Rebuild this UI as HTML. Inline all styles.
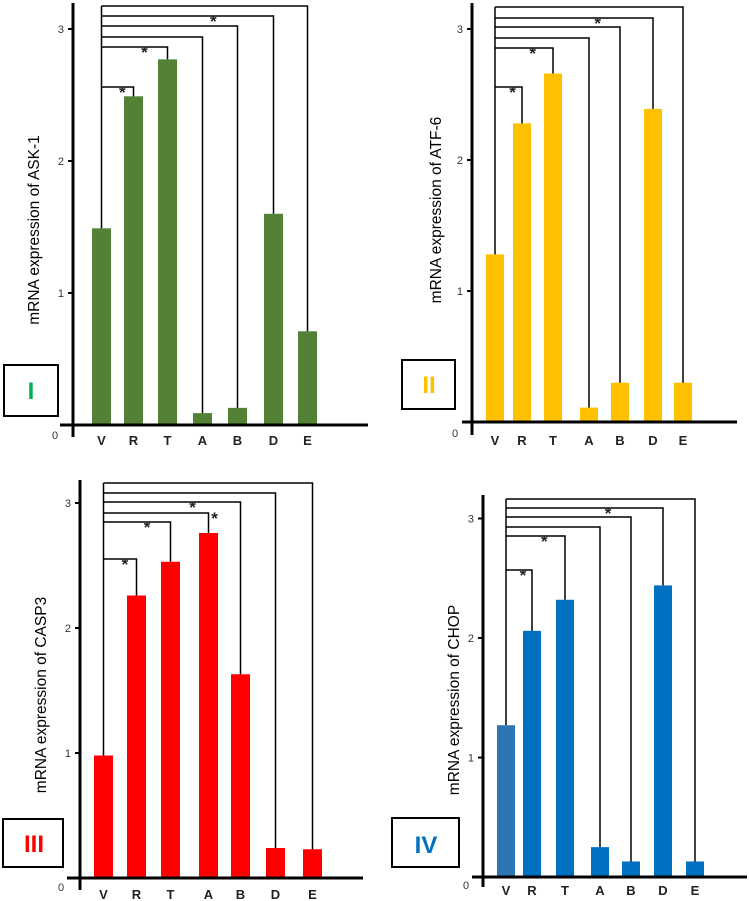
<!DOCTYPE html>
<html><head><meta charset="utf-8">
<style>
html,body{margin:0;padding:0;background:#fff;}
svg{display:block;font-family:"Liberation Sans",sans-serif;}
</style></head>
<body>
<svg id="fig" width="749" height="901" viewBox="0 0 749 901" xmlns="http://www.w3.org/2000/svg"></svg>
<script>
const categories = ["V","R","T","A","B","D","E"];
const valuesASK1 = [1.49, 2.49, 2.77, 0.09, 0.13, 1.60, 0.71];
const valuesATF6 = [1.28, 2.28, 2.66, 0.11, 0.30, 2.39, 0.30];
const valuesCASP3 = [0.98, 2.26, 2.53, 2.76, 1.63, 0.24, 0.23];
const valuesCHOP = [1.27, 2.06, 2.32, 0.25, 0.13, 2.44, 0.13];
const tickLabels = ["0","1","2","3"];
// significance flags for comparisons V vs R,T,A,B,D,E
const sigASK1 = [true, true, false, false, true, false];
const sigATF6 = [true, true, false, false, true, false];
const sigCASP3 = [true, true, true, true, false, false];
const sigCHOP = [true, true, false, false, true, false];

const NS = "http://www.w3.org/2000/svg";
const svg = document.getElementById("fig");
function mk(tag, attrs, parent){
  const e = document.createElementNS(NS, tag);
  for (const k in attrs) e.setAttribute(k, attrs[k]);
  (parent||svg).appendChild(e);
  return e;
}

const panels = [
  {id:"panel-i", values:valuesASK1, sig:sigASK1, color:"#538135", vColor:"#538135",
   title:"mRNA expression of ASK-1", roman:"I", romanColor:"#00b050",
   axisX:73, axisTop:3, axisBot:437, y0:425, unit:132, xStart:60, xEnd:368,
   barX:[92,124,158,193,228,264,298], barW:19,
   levels:[87,47,37,26,16,6], titleX:35, titleY:230,
   box:[4,365,54,51], romanX:31, romanY:399, labelY:445, zeroX:55, zeroY:439},
  {id:"panel-ii", values:valuesATF6, sig:sigATF6, color:"#ffc000", vColor:"#ffc000",
   title:"mRNA expression of ATF-6", roman:"II", romanColor:"#ffc000",
   axisX:472, axisTop:3, axisBot:435, y0:422, unit:131, xStart:462, xEnd:737,
   barX:[486,513,544,580,611,644,674], barW:18,
   levels:[87,48,38,27,18,7], titleX:437, titleY:210,
   box:[402,360,53,49], romanX:429, romanY:393, labelY:445, zeroX:455, zeroY:437},
  {id:"panel-iii", values:valuesCASP3, sig:sigCASP3, color:"#ff0000", vColor:"#ff0000",
   title:"mRNA expression of CASP3", roman:"III", romanColor:"#ff0000",
   axisX:80, axisTop:480, axisBot:890, y0:878, unit:125, xStart:67, xEnd:363,
   barX:[94,127,161,199,231,266,303], barW:19,
   levels:[559,522,513,502,493,483], titleX:42, titleY:695,
   box:[3,819,60,48], romanX:34, romanY:852, labelY:899, zeroX:61, zeroY:891},
  {id:"panel-iv", values:valuesCHOP, sig:sigCHOP, color:"#0070c0", vColor:"#2e75b6",
   title:"mRNA expression of CHOP", roman:"IV", romanColor:"#0070c0",
   axisX:483, axisTop:495, axisBot:887, y0:877, unit:119.5, xStart:472, xEnd:747,
   barX:[497,523,556,591,622,654,686], barW:18,
   levels:[570,536,527,517,508,499], titleX:455, titleY:700,
   box:[392,818,67,49], romanX:426, romanY:853, labelY:895, zeroX:466, zeroY:889}
];

panels.forEach(p => {
  const g = mk("g", {});
  
  
  const y = v => p.y0 - v * p.unit;
  p.values.forEach((v, i) => {
    const r = mk("rect", {x:p.barX[i], y:y(v), width:p.barW, height:p.y0 - y(v), fill: i===0 ? p.vColor : p.color}, g);
    
    
  });
  const ya = mk("line", {x1:p.axisX, y1:p.axisTop, x2:p.axisX, y2:p.axisBot, stroke:"#000", "stroke-width":3}, g);
  
  
  const xa = mk("line", {x1:p.xStart, y1:p.y0, x2:p.xEnd, y2:p.y0, stroke:"#000", "stroke-width":3}, g);
  
  
  tickLabels.forEach((t, i) => {
    if (i === 0) {
      const z = mk("text", {x:p.zeroX, y:p.zeroY, "font-size":11, fill:"#333", "text-anchor":"middle"}, g);
      z.textContent = t;
      
      
      return;
    }
    const ty = y(i);
    mk("line", {x1:p.axisX-5, y1:ty, x2:p.axisX, y2:ty, stroke:"#000", "stroke-width":2}, g);
    const tl = mk("text", {x:p.axisX-9, y:ty+4, "font-size":11, fill:"#333", "text-anchor":"end"}, g);
    tl.textContent = t;
    
    
  });
  categories.forEach((c, i) => {
    const t = mk("text", {x:p.barX[i] + p.barW/2, y:p.labelY, "font-size":13, "font-weight":"bold", fill:"#222", "text-anchor":"middle"}, g);
    t.textContent = c;
    
    
  });
  const vx = p.barX[0] + p.barW/2;
  mk("line", {x1:vx, y1:y(p.values[0]), x2:vx, y2:Math.min(...p.levels), stroke:"#000", "stroke-width":1.5}, g);
  p.levels.forEach((ly, k) => {
    const j = k + 1;
    const tx = p.barX[j] + p.barW/2;
    const b = mk("polyline", {points:`${vx},${ly} ${tx},${ly} ${tx},${y(p.values[j])}`, fill:"none", stroke:"#000", "stroke-width":1.5}, g);
    
    
    if (p.sig[k]) {
      const sx = (j === 3 && p.id === "panel-iii") ? tx + 6 : (vx + tx)/2 + (tx - vx)*0.15;
      const s = mk("text", {x:sx, y:ly + 11, "font-size":17, "font-weight":"bold", fill:"#222", "text-anchor":"middle"}, g);
      s.textContent = "*";
      
      
    }
  });
  const tt = mk("text", {x:p.titleX, y:p.titleY, "font-size":15.5, fill:"#000", "text-anchor":"middle", transform:`rotate(-90 ${p.titleX} ${p.titleY})`, "dominant-baseline":"middle"}, g);
  tt.textContent = p.title;
  
  
  const bx = mk("rect", {x:p.box[0], y:p.box[1], width:p.box[2], height:p.box[3], fill:"none", stroke:"#000", "stroke-width":2}, g);
  
  
  const rt = mk("text", {x:p.romanX, y:p.romanY, "font-size":24, "font-weight":"bold", fill:p.romanColor, "text-anchor":"middle"}, g);
  rt.textContent = p.roman;
  
  
});
</script>
</body></html>
